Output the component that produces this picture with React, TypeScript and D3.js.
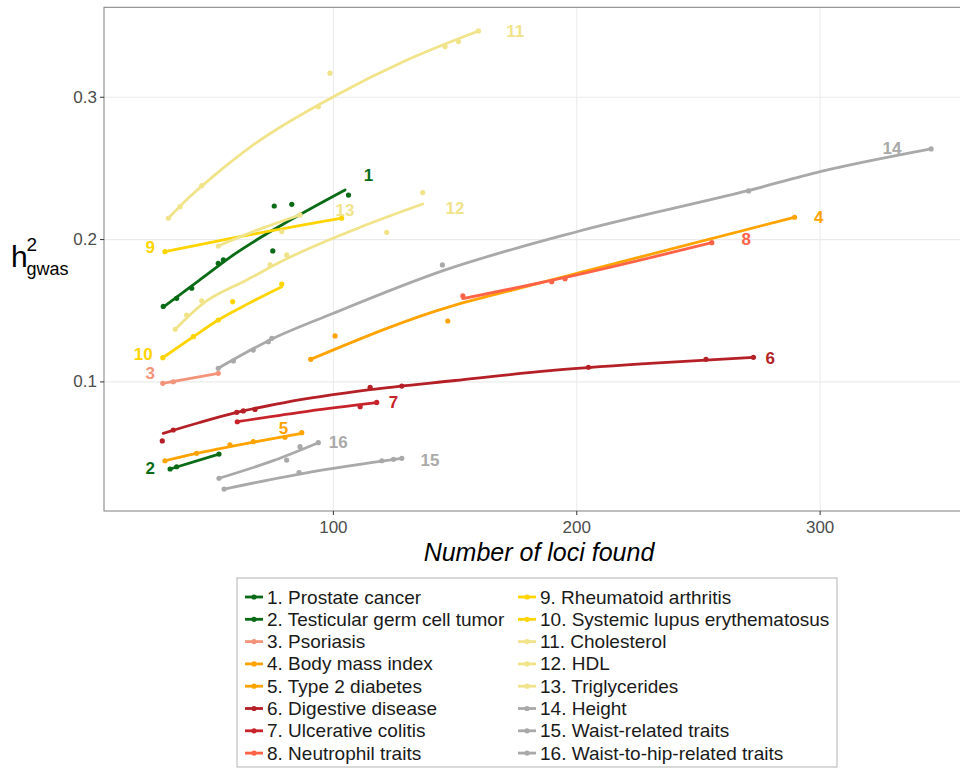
import * as d3 from "d3";

// trait names and colours, in legend order
const traitNames = [
  "1. Prostate cancer",
  "2. Testicular germ cell tumor",
  "3. Psoriasis",
  "4. Body mass index",
  "5. Type 2 diabetes",
  "6. Digestive disease",
  "7. Ulcerative colitis",
  "8. Neutrophil traits",
  "9. Rheumatoid arthritis",
  "10. Systemic lupus erythematosus",
  "11. Cholesterol",
  "12. HDL",
  "13. Triglycerides",
  "14. Height",
  "15. Waist-related traits",
  "16. Waist-to-hip-related traits",
];

const traitColors = [
  "#0a6b16", "#0a6b16", "#f3937a", "#ffa300", "#ffa300", "#b51f26", "#c8232b", "#ff6347",
  "#ffd400", "#ffd400", "#f0e38a", "#f0e38a", "#f0e38a", "#a9a9a9", "#a9a9a9", "#a9a9a9",
];

// fitted curve (number of loci, h2)
const fitLines: [number, number][][] = [
  [[30.1, 0.1525], [45, 0.1715], [60, 0.1905], [80, 0.2115], [104.8, 0.2349]],
  [[32.9, 0.0388], [53, 0.0493]],
  [[29.9, 0.099], [52.7, 0.106]],
  [[90.7, 0.1159], [150, 0.154], [168.5, 0.1623], [200, 0.1763], [289.5, 0.2157]],
  [[30.8, 0.0446], [43.8, 0.0498], [57.5, 0.0545], [70, 0.0585], [87, 0.0638]],
  [[30.1, 0.0639], [45, 0.0715], [60.3, 0.0786], [80, 0.0855], [115, 0.0945], [150, 0.101], [189, 0.1079], [230, 0.113], [272.6, 0.1173]],
  [[60.5, 0.072], [90, 0.0795], [117.8, 0.0854]],
  [[153.2, 0.1585], [200, 0.1752], [255.5, 0.1978]],
  [[30.8, 0.1915], [60, 0.2015], [103.4, 0.215]],
  [[29.9, 0.117], [42.5, 0.1318], [52.7, 0.1435], [65, 0.155], [78.8, 0.1669]],
  [[32.2, 0.215], [40, 0.2285], [50, 0.2435], [67.1, 0.2665], [100, 0.3004], [130, 0.326], [159.6, 0.3466]],
  [[35, 0.137], [46, 0.1545], [64.4, 0.1716], [80.8, 0.1865], [110, 0.208], [136.7, 0.225]],
  [[52.7, 0.1955], [70, 0.2075], [86.3, 0.2173]],
  [[52.7, 0.1096], [74, 0.1295], [100, 0.1482], [144.8, 0.178], [200, 0.2055], [270.6, 0.2345], [300, 0.2477], [345.6, 0.2637]],
  [[55.1, 0.0247], [90, 0.0365], [128.1, 0.0463]],
  [[53, 0.0323], [75, 0.0445], [93.8, 0.0573]],
];

// observed studies (number of loci, h2)
const studyPoints: [number, number][][] = [
  [[30.1, 0.153], [35.6, 0.1587], [41.8, 0.1658], [52.7, 0.1833], [54.8, 0.1857], [75.1, 0.192], [75.7, 0.2236], [82.9, 0.2248], [106.2, 0.2313]],
  [[32.9, 0.0388], [35.6, 0.0404], [53, 0.0493]],
  [[29.9, 0.099], [34.2, 0.1001], [52.7, 0.106]],
  [[90.7, 0.1159], [100.7, 0.1323], [147, 0.1428], [289.5, 0.2157]],
  [[30.8, 0.0446], [43.8, 0.0498], [57.5, 0.0557], [67.1, 0.058], [80.1, 0.0611], [87, 0.0643]],
  [[29.7, 0.0585], [34.2, 0.0662], [60.3, 0.0786], [63, 0.0796], [67.8, 0.0807], [115.1, 0.0962], [128.1, 0.0971], [204.8, 0.1103], [253.1, 0.1159], [272.6, 0.1173]],
  [[60.5, 0.072], [111, 0.0826], [117.8, 0.0856]],
  [[153.2, 0.1604], [189.7, 0.1704], [195.2, 0.1725], [255.5, 0.1978]],
  [[30.8, 0.1915], [103.4, 0.215]],
  [[29.9, 0.117], [42.5, 0.1318], [52.7, 0.1435], [58.6, 0.1564], [78.8, 0.1688]],
  [[32.2, 0.215], [37, 0.2231], [45.9, 0.2379], [93.8, 0.2934], [98.6, 0.3169], [145.9, 0.3356], [151.4, 0.3391], [159.6, 0.3466]],
  [[35, 0.137], [39.7, 0.147], [45.9, 0.157], [74, 0.1822], [80.8, 0.1892], [121.9, 0.2051], [136.7, 0.233]],
  [[52.7, 0.1955], [78.8, 0.2056], [86.3, 0.2173]],
  [[52.7, 0.1096], [58.9, 0.1147], [67.1, 0.1224], [73.3, 0.1282], [74.7, 0.1306], [144.8, 0.1822], [270.6, 0.2342], [345.6, 0.2637]],
  [[55.1, 0.0247], [85.9, 0.0362], [119.9, 0.0446], [124.7, 0.0456], [128.1, 0.0463]],
  [[53, 0.0323], [80.8, 0.0451], [86.3, 0.0545], [93.8, 0.0573]],
];

// trait number labels placed next to each curve
const labelSpots: [number, number][] = [
  [114.4, 0.2447], [24.7, 0.0393], [24.7, 0.106], [299.4, 0.2157],
  [79.5, 0.0674], [279.5, 0.1166], [124.7, 0.0854], [269.6, 0.2002],
  [24.7, 0.1946], [21.9, 0.1196], [174.7, 0.346], [150, 0.222],
  [104.8, 0.2207], [329.5, 0.2642], [139.7, 0.0446], [102, 0.0573],
];

const xTicks = [100, 200, 300];
const yTicks = [0.1, 0.2, 0.3];

const W = 960;
const H = 769;
const panel = { left: 104, right: 963, top: 7.3, bottom: 511 };
const FONT = "'Liberation Sans', Arial, Helvetica, sans-serif";

export default function App() {
  const x = d3.scaleLinear().domain([5.75, 358.7]).range([panel.left, panel.right]);
  const y = d3.scaleLinear().domain([0.0093, 0.3632]).range([panel.bottom, panel.top]);

  const line = d3
    .line<[number, number]>()
    .x((d) => x(d[0]))
    .y((d) => y(d[1]))
    .curve(d3.curveMonotoneX);

  const legendRows = 8;
  const legendX = 237;
  const legendY = 578;
  const rowH = 22.3;
  const colX = [245, 518];

  return (
    <svg
      width={W}
      height={H}
      style={{ position: "absolute", left: 0, top: 0, background: "#fff" }}
      fontFamily={FONT}
    >
      <rect width={W} height={H} fill="#fff" />
      <defs>
        <clipPath id="panel-clip">
          <rect x={panel.left} y={panel.top} width={panel.right - panel.left} height={panel.bottom - panel.top} />
        </clipPath>
      </defs>

      {/* grid */}
      {xTicks.map((t) => (
        <line key={"gx" + t} x1={x(t)} x2={x(t)} y1={panel.top} y2={panel.bottom} stroke="#ebebeb" strokeWidth={1.1} />
      ))}
      {yTicks.map((t) => (
        <line key={"gy" + t} x1={panel.left} x2={panel.right} y1={y(t)} y2={y(t)} stroke="#ebebeb" strokeWidth={1.1} />
      ))}

      {/* curves and points */}
      <g clipPath="url(#panel-clip)">
        {fitLines.map((pts, i) => (
          <g key={"s" + i}>
            <path d={line(pts) ?? ""} fill="none" stroke={traitColors[i]} strokeWidth={2.8} strokeLinecap="round" />
            {studyPoints[i].map((p, j) => (
              <circle key={j} cx={x(p[0])} cy={y(p[1])} r={2.6} fill={traitColors[i]} />
            ))}
          </g>
        ))}
        {labelSpots.map((p, i) => (
          <text
            key={"l" + i}
            x={x(p[0])}
            y={y(p[1])}
            textAnchor="middle"
            dominantBaseline="central"
            fontSize={17}
            fontWeight="bold"
            fill={traitColors[i]}
          >
            {i + 1}
          </text>
        ))}
      </g>

      {/* panel border */}
      <rect
        x={panel.left}
        y={panel.top}
        width={panel.right - panel.left}
        height={panel.bottom - panel.top}
        fill="none"
        stroke="#7f7f7f"
        strokeWidth={1}
      />

      {/* axes */}
      {xTicks.map((t) => (
        <g key={"tx" + t}>
          <line x1={x(t)} x2={x(t)} y1={panel.bottom} y2={panel.bottom + 4} stroke="#333" />
          <text x={x(t)} y={panel.bottom + 22} textAnchor="middle" fontSize={17} fill="#4d4d4d">
            {t}
          </text>
        </g>
      ))}
      {yTicks.map((t) => (
        <g key={"ty" + t}>
          <line x1={panel.left - 4} x2={panel.left} y1={y(t)} y2={y(t)} stroke="#333" />
          <text x={panel.left - 7} y={y(t)} textAnchor="end" dominantBaseline="central" fontSize={17} fill="#4d4d4d">
            {d3.format(".1f")(t)}
          </text>
        </g>
      ))}

      <text x={539} y={561} textAnchor="middle" fontSize={25} fontStyle="italic" fill="#000">
        Number of loci found
      </text>

      <text x={11} y={267} fontSize={30} fill="#000">h</text>
      <text x={26.5} y={251} fontSize={19} fill="#000">2</text>
      <text x={26.5} y={275} fontSize={18} fill="#000">gwas</text>

      {/* legend */}
      <rect x={legendX} y={legendY} width={600} height={189} fill="#fff" stroke="#b3b3b3" strokeWidth={1} />
      {traitNames.map((name, i) => {
        const col = Math.floor(i / legendRows);
        const row = i % legendRows;
        const cy = legendY + 19 + row * rowH;
        const kx = colX[col];
        return (
          <g key={"lg" + i}>
            <line x1={kx} x2={kx + 18} y1={cy} y2={cy} stroke={traitColors[i]} strokeWidth={2.8} />
            <circle cx={kx + 9} cy={cy} r={2.6} fill={traitColors[i]} />
            <text x={kx + 22} y={cy} dominantBaseline="central" fontSize={19} fill="#1a1a1a">
              {name}
            </text>
          </g>
        );
      })}
    </svg>
  );
}
